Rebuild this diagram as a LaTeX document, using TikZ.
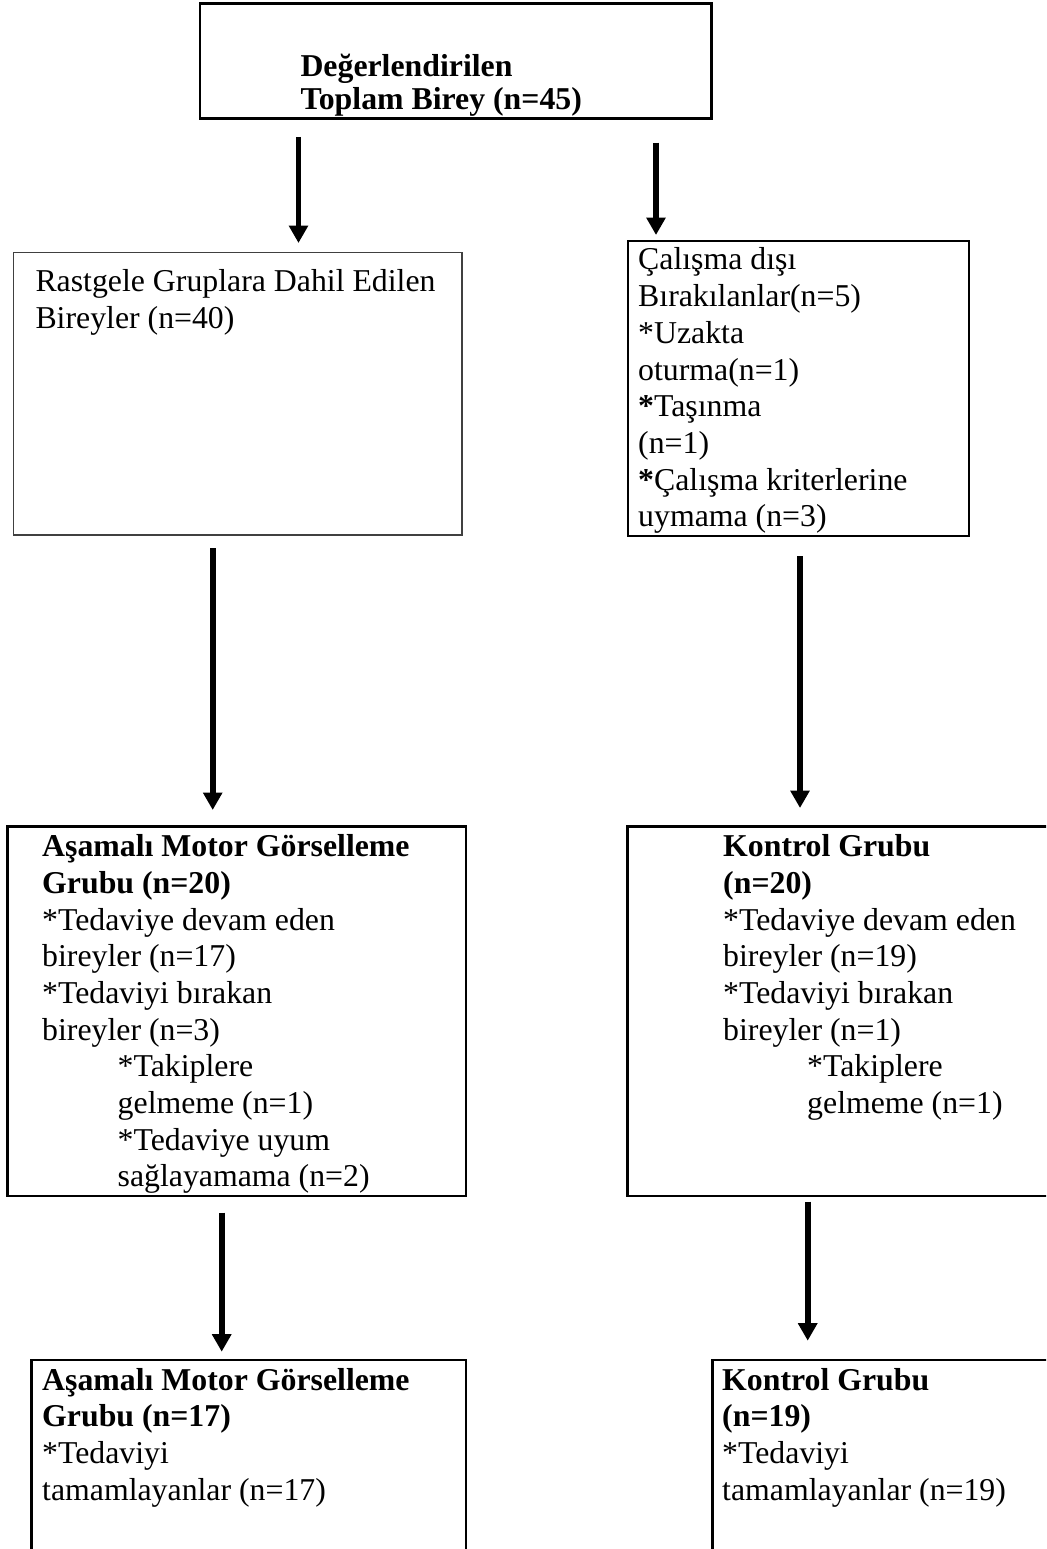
\documentclass[tikz,border=0pt]{standalone}
\usepackage{fontspec}
\setmainfont{Liberation Serif}
\usetikzlibrary{arrows.meta,fit}
\begin{document}
\begin{tikzpicture}[x=0.3774pt,y=-0.3774pt,
  box/.style={draw=black,line width=1pt,inner sep=0pt},
  thinbox/.style={draw=black!75,line width=0.6pt,inner sep=0pt},
  txt/.style={anchor=base west,inner sep=0pt,text width=200pt,align=flush left,
    font=\fontsize{12pt}{13.85pt}\selectfont},
  toptxt/.style={anchor=base west,inner sep=0pt,text width=200pt,align=flush left,
    font=\fontsize{12pt}{12.1pt}\selectfont\bfseries},
  arr/.style={line width=2.2pt,-{Triangle[width=7pt,length=6.6pt]}}]
\useasboundingbox (0,0) rectangle (1046,1549);
\clip (0,0) rectangle (1046,1549);

% boxes
\node[box,fit={(200,3.3) (711.7,118.5)}] (top) {};
\node[thinbox,fit={(13.3,252.7) (461.7,535)}] (rast) {};
\node[box,line width=0.85pt,fit={(627.7,240.7) (969,536)}] (calis) {};
\node[box,fit={(7.3,826.7) (466,1196)}] (asa1) {};
\node[box,fit={(627.7,826.7) (1070,1196)}] (kon1) {};
\node[box,fit={(31.7,1360) (466,1580)}] (asa2) {};
\node[box,fit={(712.3,1360) (1070,1580)}] (kon2) {};

% texts
\node[toptxt] (topT) at (300,77) {Değerlendirilen\\Toplam Birey (n=45)};
\node[txt] (rastT) at (35,291.7) {Rastgele Gruplara Dahil Edilen\\Bireyler (n=40)};
\node[txt] (calisT) at (637.7,270) {Çalışma dışı\\Bırakılanlar(n=5)\\{}*Uzakta\\oturma(n=1)\\\textbf{*}Taşınma\\(n=1)\\\textbf{*}Çalışma kriterlerine\\uymama (n=3)};
\node[txt] (asa1T) at (41.7,856.7) {\textbf{Aşamalı Motor Görselleme}\\\textbf{Grubu (n=20)}\\{}*Tedaviye devam eden\\bireyler (n=17)\\{}*Tedaviyi bırakan\\bireyler (n=3)\\\hspace*{28.5pt}*Takiplere\\\hspace*{28.5pt}gelmeme (n=1)\\\hspace*{28.5pt}*Tedaviye uyum\\\hspace*{28.5pt}sağlayamama (n=2)};
\node[txt] (kon1T) at (722.7,856.7) {\textbf{Kontrol Grubu}\\\textbf{(n=20)}\\{}*Tedaviye devam eden\\bireyler (n=19)\\{}*Tedaviyi bırakan\\bireyler (n=1)\\\hspace*{31.7pt}*Takiplere\\\hspace*{31.7pt}gelmeme (n=1)};
\node[txt] (asa2T) at (41.7,1390) {\textbf{Aşamalı Motor Görselleme}\\\textbf{Grubu (n=17)}\\{}*Tedaviyi\\tamamlayanlar (n=17)};
\node[txt] (kon2T) at (721.7,1390) {\textbf{Kontrol Grubu}\\\textbf{(n=19)}\\{}*Tedaviyi\\tamamlayanlar (n=19)};

% arrow end points
\coordinate (a1s) at (298.5,137);   \coordinate (a1e) at (298.5,243);
\coordinate (a2s) at (656,142.7);   \coordinate (a2e) at (656,235);
\coordinate (a3s) at (212.7,548);   \coordinate (a3e) at (212.7,810);
\coordinate (a4s) at (800,556);     \coordinate (a4e) at (800,808);
\coordinate (a5s) at (221.7,1212.7);\coordinate (a5e) at (221.7,1351.7);
\coordinate (a6s) at (807.7,1201.7);\coordinate (a6e) at (807.7,1340.7);

\draw[arr] (a1s) -- (a1e);
\draw[arr] (a2s) -- (a2e);
\draw[arr] (a3s) -- (a3e);
\draw[arr] (a4s) -- (a4e);
\draw[arr] (a5s) -- (a5e);
\draw[arr] (a6s) -- (a6e);
\end{tikzpicture}
\end{document}
